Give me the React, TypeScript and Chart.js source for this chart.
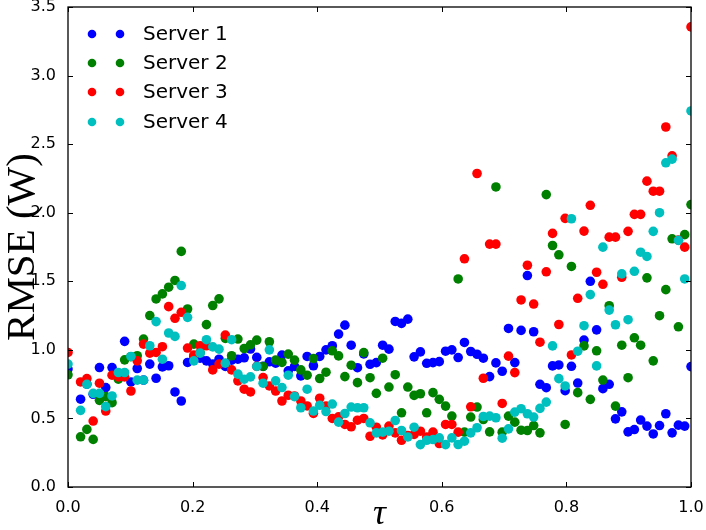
import React, { useEffect, useRef } from "react";
import { Chart, registerables } from "chart.js";

Chart.register(...registerables);

// tau grid: 100 evenly spaced samples on [0, 1]
const N_POINTS = 100;
const TAU: number[] = Array.from({ length: N_POINTS }, (_, i) => i / (N_POINTS - 1));

const X_TICKS = [0.0, 0.2, 0.4, 0.6, 0.8, 1.0];
const Y_TICKS = [0.0, 0.5, 1.0, 1.5, 2.0, 2.5, 3.0, 3.5];

const SERIES_NAMES = ["Server 1", "Server 2", "Server 3", "Server 4"];
const SERIES_COLORS = ["#0000ff", "#008000", "#ff0000", "#00bfbf"];

const SERVER1: (number | null)[] = [
  0.86, null, 0.64, 0.75, 0.676, 0.871, 0.725, 0.871, 0.81, 1.062,
  0.766, 0.864, 0.779, 0.896, 0.793, 0.876, 0.884, 0.693, 0.627, 0.908,
  0.952, 0.94, 0.92, 0.896, 0.932, 0.879, 0.925, 0.932, 0.942, 1.006,
  0.945, 0.88, 0.913, 0.903, 0.962, 0.847, 0.879, 0.81, 0.952, 0.884,
  0.952, 1.0, 1.03, 1.115, 1.18, 1.034, 0.87, 0.97, 0.895, 0.907,
  1.034, 1.005, 1.207, 1.193, 1.224, 0.949, 0.985, 0.902, 0.907, 0.914,
  0.99, 1.0, 0.944, 1.054, 0.988, 0.968, 0.939, 0.805, 0.905, 0.844,
  1.156, 0.907, 1.142, 1.542, 1.132, 0.749, 0.724, 0.883, 0.89, 0.702,
  0.88, 0.758, 1.071, 1.5, 1.146, 0.717, 0.749, 0.497, 0.548, 0.402,
  0.419, 0.488, 0.444, 0.387, 0.448, 0.534, 0.395, 0.451, 0.444, 0.878,
];

const SERVER2: (number | null)[] = [
  0.818, null, 0.366, 0.42, 0.347, 0.632, 0.659, 0.615, 0.786, 0.927,
  0.95, 0.957, 1.079, 1.25, 1.371, 1.408, 1.457, 1.506, 1.718, 1.298,
  1.042, 0.98, 1.184, 1.323, 1.372, 1.084, 0.957, 1.079, 1.01, 1.037,
  1.071, 0.879, 1.059, 0.925, 0.908, 0.969, 0.925, 0.854, 0.815, 0.937,
  0.791, 0.837, 0.993, 0.956, 0.805, 0.888, 0.761, 0.98, 0.797, 0.683,
  0.939, 0.729, 0.819, 0.541, 0.729, 0.668, 0.68, 0.541, 0.688, 0.639,
  0.59, 0.517, 1.517, 0.4, 0.51, 0.583, 0.492, 0.402, 2.188, 0.4,
  0.517, 0.473, 0.414, 0.412, 0.448, 0.395, 2.132, 1.761, 1.693, 0.456,
  1.608, 0.688, 1.029, 0.639, 0.993, 0.78, 1.322, 0.59, 1.034, 0.797,
  1.088, 1.034, 1.525, 0.92, 1.249, 1.439, 1.81, 1.168, 1.84, 2.059,
];

const SERVER3: (number | null)[] = [
  0.981, null, 0.766, 0.791, 0.481, 0.757, 0.554, 0.815, 0.803, 0.803,
  0.7, 0.92, 1.042, 0.976, 0.981, 1.023, 1.315, 1.23, 1.274, 1.013,
  0.962, 1.03, 1.03, 0.854, 0.896, 1.108, 0.854, 0.774, 0.713, 0.693,
  0.88, 0.798, 0.737, 0.7, 0.627, 0.669, 0.664, 0.627, 0.591, 0.537,
  0.647, 0.591, 0.5, 0.512, 0.456, 0.439, 0.487, 0.5, 0.37, 0.436,
  0.38, 0.444, 0.395, 0.341, 0.375, 0.383, 0.407, 0.365, 0.4, 0.317,
  0.456, 0.456, 0.4, 1.664, 0.585, 2.286, 0.793, 1.771, 1.771, 0.609,
  0.954, 0.834, 1.364, 1.617, 1.334, 1.056, 1.569, 1.849, 1.185, 1.959,
  0.963, 1.376, 1.866, 2.054, 1.566, 1.478, 1.822, 1.822, 1.529, 1.864,
  1.988, 1.988, 2.23, 2.157, 2.157, 2.625, 2.415, 1.8, 1.749, 3.355,
];

const SERVER4: (number | null)[] = [
  0.896, null, 0.559, 0.749, 0.683, 0.683, 0.586, 0.664, 0.835, 0.835,
  0.952, 0.779, 0.779, 1.03, 1.206, 0.932, 1.123, 1.098, 1.469, 1.237,
  0.92, 0.976, 1.074, 1.022, 1.005, 0.903, 1.074, 0.823, 0.786, 0.803,
  0.879, 0.757, 1.0, 0.774, 0.725, 0.815, 0.659, 0.578, 0.713, 0.554,
  0.596, 0.55, 0.605, 0.473, 0.536, 0.583, 0.578, 0.578, 0.468, 0.395,
  0.4, 0.407, 0.485, 0.412, 0.365, 0.436, 0.309, 0.341, 0.346, 0.358,
  0.309, 0.358, 0.31, 0.334, 0.395, 0.432, 0.514, 0.517, 0.505, 0.356,
  0.424, 0.546, 0.571, 0.534, 0.51, 0.573, 0.619, 1.029, 0.79, 0.737,
  1.956, 0.99, 1.176, 1.403, 0.883, 1.749, 1.29, 1.183, 1.554, 1.22,
  1.573, 1.712, 1.681, 1.864, 2.0, 2.364, 2.391, 1.798, 1.517, 2.742,
];

const SERIES_VALUES = [SERVER1, SERVER2, SERVER3, SERVER4];

const X_TITLE = "τ";
const Y_TITLE = "RMSE (W)";

const decoPlugin = {
  id: "deco",
  afterDraw(chart: any) {
    const { ctx, chartArea: a, scales } = chart;
    const xs = scales.x;
    const ys = scales.y;
    ctx.save();
    // inward ticks on all four sides
    ctx.strokeStyle = "#000";
    ctx.lineWidth = 1;
    const TL = 5;
    X_TICKS.forEach((v) => {
      const px = Math.round(xs.getPixelForValue(v)) + 0.5;
      ctx.beginPath();
      ctx.moveTo(px, a.bottom);
      ctx.lineTo(px, a.bottom - TL);
      ctx.moveTo(px, a.top);
      ctx.lineTo(px, a.top + TL);
      ctx.stroke();
    });
    Y_TICKS.forEach((v) => {
      const py = Math.round(ys.getPixelForValue(v)) + 0.5;
      ctx.beginPath();
      ctx.moveTo(a.left, py);
      ctx.lineTo(a.left + TL, py);
      ctx.moveTo(a.right, py);
      ctx.lineTo(a.right - TL, py);
      ctx.stroke();
    });
    // frame
    ctx.lineWidth = 1.3;
    ctx.strokeRect(a.left, a.top, a.right - a.left, a.bottom - a.top);

    // legend (two markers per entry)
    const rows = [34, 63, 92, 122];
    SERIES_NAMES.forEach((name, i) => {
      const yy = rows[i];
      ctx.fillStyle = SERIES_COLORS[i];
      [92, 120].forEach((mx) => {
        ctx.beginPath();
        ctx.arc(mx, yy, 4.3, 0, Math.PI * 2);
        ctx.fill();
      });
      ctx.fillStyle = "#000";
      ctx.font = "20px 'DejaVu Sans'";
      ctx.textAlign = "left";
      ctx.textBaseline = "middle";
      ctx.fillText(name, 143, yy + 1);
    });

    // axis titles
    ctx.fillStyle = "#000";
    ctx.font = "italic 36px 'Liberation Serif'";
    ctx.textAlign = "center";
    ctx.textBaseline = "middle";
    ctx.fillText(X_TITLE, (a.left + a.right) / 2, 515);

    ctx.translate(23, (a.top + a.bottom) / 2);
    ctx.rotate(-Math.PI / 2);
    ctx.font = "41px 'Liberation Serif'";
    ctx.fillText(Y_TITLE, 0, 0);
    ctx.restore();
  },
};

export default function App() {
  const ref = useRef<HTMLCanvasElement | null>(null);
  useEffect(() => {
    if (!ref.current) return;
    const datasets = SERIES_NAMES.map((name, si) => ({
      label: name,
      data: SERIES_VALUES[si]
        .map((v, i) => (v === null ? null : { x: TAU[i], y: v }))
        .filter((p) => p !== null),
      backgroundColor: SERIES_COLORS[si],
      borderColor: SERIES_COLORS[si],
      borderWidth: 0,
      pointRadius: 4.8,
      pointHoverRadius: 4.8,
      clip: 0,
      order: SERIES_NAMES.length - si,
    }));
    const chart = new Chart(ref.current, {
      type: "scatter",
      data: { datasets },
      options: {
        animation: false,
        responsive: false,
        devicePixelRatio: 1,
        layout: { padding: { top: 7, right: 15, left: 0, bottom: 0 } },
        plugins: { legend: { display: false }, tooltip: { enabled: false } },
        scales: {
          x: {
            type: "linear",
            min: 0,
            max: 1,
            grid: { display: false },
            border: { display: false },
            ticks: {
              stepSize: 0.2,
              padding: 3,
              color: "#000",
              font: { family: "'DejaVu Sans'", size: 16 },
              callback: (v: any) => Number(v).toFixed(1),
            },
            afterFit: (s: any) => {
              s.height = 43;
              s.paddingLeft = 0;
              s.paddingRight = 0;
            },
          },
          y: {
            type: "linear",
            min: 0,
            max: 3.5,
            grid: { display: false },
            border: { display: false },
            ticks: {
              stepSize: 0.5,
              padding: 4,
              color: "#000",
              font: { family: "'DejaVu Sans'", size: 16 },
              callback: (v: any) => Number(v).toFixed(1),
            },
            afterFit: (s: any) => {
              s.width = 68;
              s.paddingTop = 0;
              s.paddingBottom = 0;
            },
          },
        },
      },
      plugins: [decoPlugin],
    });
    return () => chart.destroy();
  }, []);
  return (
    <div style={{ position: "absolute", left: 0, top: 0, width: 706, height: 530, background: "#fff" }}>
      <canvas ref={ref} width={706} height={530} />
    </div>
  );
}
